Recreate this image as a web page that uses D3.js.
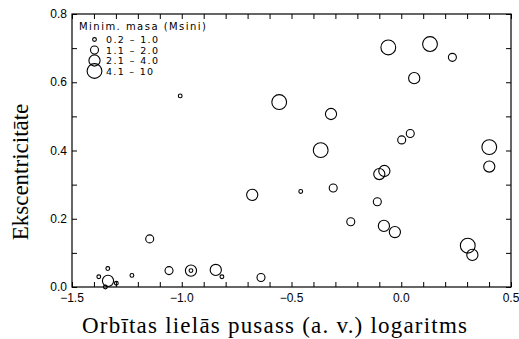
<!DOCTYPE html>
<html>
<head>
<meta charset="utf-8">
<script src="https://cdn.jsdelivr.net/npm/d3@7"></script>
<style>
  body { margin: 0; background: #fff; }
  text { fill: #000; }
</style>
</head>
<body>
<svg id="canvas"></svg>
<script>
// log10 of semi-major axis (AU), eccentricity, mass class (0..3)
let logA = [-1.146, -1.337, -1.378, -1.336, -1.348, -1.298, -1.227, -1.058, -0.958, -0.958,
            -0.845, -0.817, -0.639, -0.679, -1.007, -0.556, -0.320, -0.367, -0.458, -0.310,
            -0.230, -0.109, -0.100, -0.077, -0.079, -0.029, 0.002, 0.041, -0.059, 0.131,
            0.233, 0.059, 0.401, 0.401, 0.303, 0.324]
let ecc  = [0.141, 0.054, 0.030, 0.018, 0.000, 0.011, 0.034, 0.048, 0.048, 0.048,
            0.050, 0.030, 0.028, 0.270, 0.560, 0.542, 0.507, 0.401, 0.280, 0.290,
            0.191, 0.250, 0.331, 0.340, 0.179, 0.161, 0.431, 0.450, 0.702, 0.712,
            0.673, 0.612, 0.410, 0.353, 0.121, 0.094]
let massClass = [1, 0, 0, 2, 0, 0, 0, 1, 2, 0,
                 2, 0, 1, 2, 0, 3, 2, 3, 0, 1,
                 1, 1, 2, 2, 2, 2, 1, 1, 3, 3,
                 1, 2, 3, 2, 3, 2]

let legendLabels = ['0.2', '1.1', '2.1', '4.1']
let legendLabelsTo = ['1.0', '2.0', '4.0', '10']
let classRadius = [1.9, 4, 5.6, 7.4]

let xTicks = [-1.5, -1.0, -0.5, 0.0, 0.5]
let yTicks = [0.0, 0.2, 0.4, 0.6, 0.8]

let width = 519
let height = 339
let padLeft = 72, padRight = 511, padTop = 14, padBottom = 287

let canvas = d3.select('#canvas')
canvas.attr('width', width).attr('height', height)

let xScale = d3.scaleLinear().domain([-1.5, 0.5]).range([padLeft, padRight])
let yScale = d3.scaleLinear().domain([0, 0.8]).range([padBottom, padTop])
let rScale = d3.scaleOrdinal().domain([0, 1, 2, 3]).range(classRadius)

let minorX = d3.range(-1.5, 0.5001, 0.1)
let minorY = d3.range(0, 0.8001, 0.1)

let fmt = d3.format('.1f')

// frame
canvas.append('rect')
    .attr('x', padLeft).attr('y', padTop)
    .attr('width', padRight - padLeft).attr('height', padBottom - padTop)
    .attr('fill', 'none').attr('stroke', '#000').attr('stroke-width', 1.2)

// axes with inward ticks
let xAxis = d3.axisBottom(xScale).tickValues(minorX).tickSize(-5).tickFormat('')
canvas.append('g').attr('transform', `translate(0, ${padBottom})`).call(xAxis)
canvas.append('g').attr('transform', `translate(0, ${padTop})`)
    .call(d3.axisTop(xScale).tickValues(minorX).tickSize(-5).tickFormat(''))

let yAxis = d3.axisLeft(yScale).tickValues(minorY).tickSize(-5).tickFormat('')
canvas.append('g').attr('transform', `translate(${padLeft}, 0)`).call(yAxis)
canvas.append('g').attr('transform', `translate(${padRight}, 0)`)
    .call(d3.axisRight(yScale).tickValues(minorY).tickSize(-5).tickFormat(''))

canvas.selectAll('.domain').remove()
canvas.selectAll('.tick line').attr('stroke', '#000').attr('stroke-width', 1)

// tick labels
canvas.selectAll('.xlab')
    .data(xTicks)
    .enter()
    .append('text')
    .attr('x', (d) => xScale(d))
    .attr('y', padBottom + 15)
    .attr('text-anchor', 'middle')
    .style('font', '12px "Liberation Sans", Arial, sans-serif')
    .text((d) => fmt(d))

canvas.selectAll('.ylab')
    .data(yTicks)
    .enter()
    .append('text')
    .attr('x', padLeft - 5)
    .attr('y', (d) => yScale(d) + 4)
    .attr('text-anchor', 'end')
    .style('font', '12px "Liberation Sans", Arial, sans-serif')
    .text((d) => fmt(d))

// axis titles
canvas.append('text')
    .attr('x', 82)
    .attr('y', 333)
    .attr('textLength', 385)
    .attr('lengthAdjust', 'spacing')
    .style('font', '23px "Liberation Serif", "DejaVu Serif", serif')
    .text('Orbītas lielās pusass (a. v.) logaritms')

canvas.append('text')
    .attr('transform', 'translate(28, 172) rotate(-90)')
    .attr('text-anchor', 'middle')
    .style('font', '23px "Liberation Serif", "DejaVu Serif", serif')
    .text('Ekscentricitāte')

// points
canvas.selectAll('.pt')
    .data(logA)
    .enter()
    .append('circle')
    .attr('cx', (d) => xScale(d))
    .attr('cy', (d, i) => yScale(ecc[i]))
    .attr('r', (d, i) => rScale(massClass[i]))
    .attr('fill', 'none')
    .attr('stroke', '#000')
    .attr('stroke-width', 1.1)

// legend
let legend = canvas.append('g')
legend.append('text')
    .attr('x', 79).attr('y', 30)
    .attr('textLength', 127)
    .attr('lengthAdjust', 'spacing')
    .style('font', '10px "DejaVu Sans", sans-serif')
    .text('Minim.  masa  (Msini)')

let legendY = [39.5, 50, 60.5, 71]
legend.selectAll('circle')
    .data(classRadius)
    .enter()
    .append('circle')
    .attr('cx', 94.5)
    .attr('cy', (d, i) => legendY[i])
    .attr('r', (d) => d)
    .attr('fill', 'none')
    .attr('stroke', '#000')
    .attr('stroke-width', 1.1)

legend.selectAll('.lt')
    .data(legendLabels)
    .enter()
    .append('text')
    .attr('x', 106)
    .attr('y', (d, i) => legendY[i] + 3.5)
    .attr('textLength', (d, i) => i === 3 ? 47 : 52)
    .attr('lengthAdjust', 'spacing')
    .style('font', '9.5px "DejaVu Sans", sans-serif')
    .text((d, i) => d + '  \u2013  ' + legendLabelsTo[i])
</script>
</body>
</html>
